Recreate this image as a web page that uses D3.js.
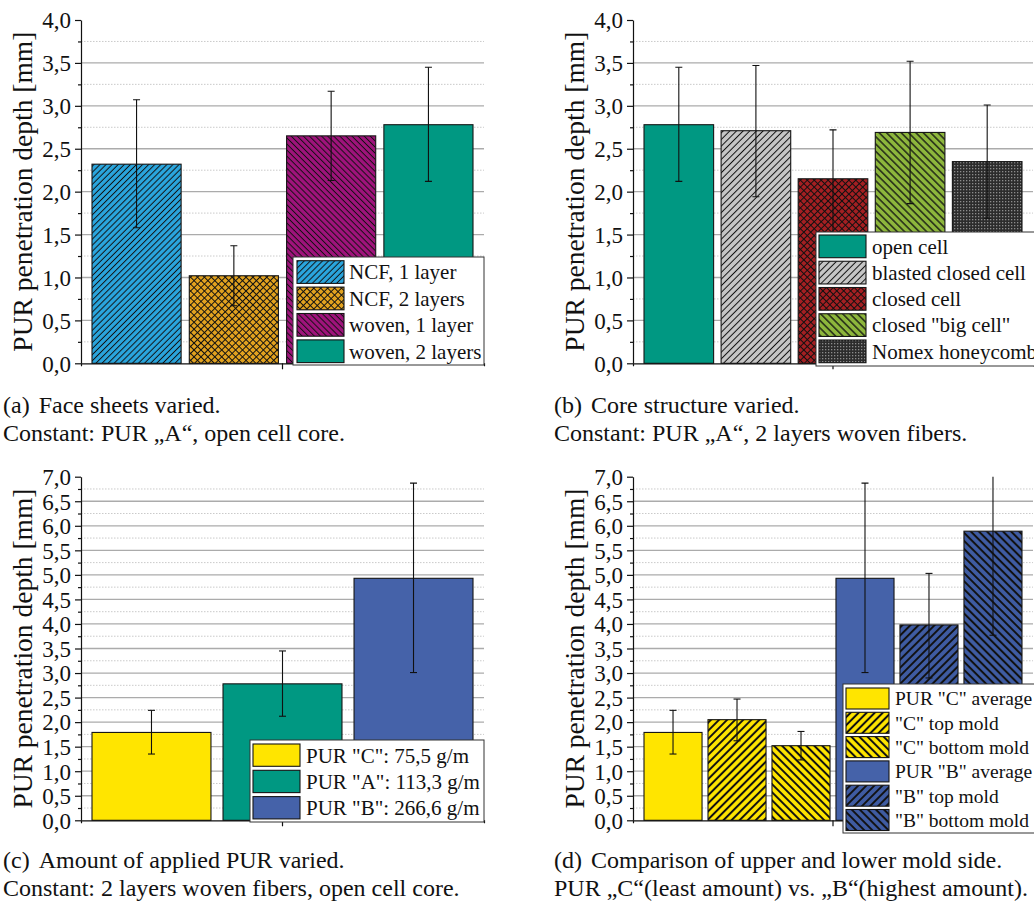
<!DOCTYPE html>
<html>
<head>
<meta charset="utf-8">
<script src="https://cdn.jsdelivr.net/npm/d3@7"></script>
<style>
  body { margin: 0; background: #fff; }
  svg { display: block; }
  text { font-family: "Liberation Serif", "Times New Roman", serif; fill: #111; }
</style>
</head>
<body>
<svg id="fig" width="1034" height="904"></svg>
<script>
// ---------------- data ----------------
// (a) face sheets
const faceSeries = ["NCF, 1 layer", "NCF, 2 layers", "woven, 1 layer", "woven, 2 layers"];
const faceMean   = [2.32, 1.02, 2.65, 2.78];
const faceLow    = [1.58, 0.67, 2.13, 2.12];
const faceHigh   = [3.07, 1.37, 3.17, 3.45];

// (b) core structure
const coreSeries = ["open cell", "blasted closed cell", "closed cell", "closed \"big cell\"", "Nomex honeycomb"];
const coreMean   = [2.78, 2.71, 2.15, 2.69, 2.35];
const coreLow    = [2.12, 1.94, 1.50, 1.86, 1.69];
const coreHigh   = [3.45, 3.47, 2.72, 3.52, 3.01];

// (c) amount of PUR
const amountSeries = ["PUR \"C\": 75,5 g/m", "PUR \"A\": 113,3 g/m", "PUR \"B\": 266,6 g/m"];
const amountMean   = [1.79, 2.78, 4.93];
const amountLow    = [1.35, 2.12, 3.01];
const amountHigh   = [2.24, 3.45, 6.87];

// (d) mold side
const moldSeries = ["PUR \"C\" average", "\"C\" top mold", "\"C\" bottom mold",
                    "PUR \"B\" average", "\"B\" top mold", "\"B\" bottom mold"];
const moldMean   = [1.79, 2.05, 1.52, 4.93, 3.98, 5.89];
const moldLow    = [1.35, 1.62, 1.23, 3.01, 2.90, 3.77];
const moldHigh   = [2.24, 2.47, 1.81, 6.87, 5.03, 8.01];

// axis ticks
const majorTicks4 = [0, 0.5, 1.0, 1.5, 2.0, 2.5, 3.0, 3.5, 4.0];
const minorTicks4 = [0.25, 0.75, 1.25, 1.75, 2.25, 2.75, 3.25, 3.75];
const majorTicks7 = [0, 0.5, 1.0, 1.5, 2.0, 2.5, 3.0, 3.5, 4.0, 4.5, 5.0, 5.5, 6.0, 6.5, 7.0];
const minorTicks7 = [0.25, 0.75, 1.25, 1.75, 2.25, 2.75, 3.25, 3.75, 4.25, 4.75, 5.25, 5.75, 6.25, 6.75];

const yTitle = "PUR penetration depth [mm]";

// ---------------- fills ----------------
const svg = d3.select("#fig");
const defs = svg.append("defs");

function hatch(id, bg, angle, gap, lw, cross) {
  const p = defs.append("pattern")
    .attr("id", id)
    .attr("patternUnits", "userSpaceOnUse")
    .attr("width", gap).attr("height", gap)
    .attr("patternTransform", `rotate(${angle})`);
  p.append("rect").attr("width", gap).attr("height", gap).attr("fill", bg);
  p.append("line").attr("x1", gap / 2).attr("x2", gap / 2).attr("y1", -1).attr("y2", gap + 1)
    .attr("stroke", "#111").attr("stroke-width", lw);
  if (cross) {
    p.append("line").attr("y1", gap / 2).attr("y2", gap / 2).attr("x1", -1).attr("x2", gap + 1)
      .attr("stroke", "#111").attr("stroke-width", lw);
  }
  return `url(#${id})`;
}

function dots(id, bg, fg) {
  const p = defs.append("pattern")
    .attr("id", id).attr("patternUnits", "userSpaceOnUse")
    .attr("width", 3).attr("height", 3);
  p.append("rect").attr("width", 3).attr("height", 3).attr("fill", bg);
  p.append("rect").attr("width", 1.3).attr("height", 1.3).attr("fill", fg);
  return `url(#${id})`;
}

const TEAL = "#009882", YELLOW = "#ffe500", BLUE = "#4562a9";

const fills = {
  "NCF, 1 layer":        hatch("ncf1", "#2aa6de", 45, 4.3, 1, false),
  "NCF, 2 layers":       hatch("ncf2", "#e2a21f", 45, 4.9, 1, true),
  "woven, 1 layer":      hatch("wov1", "#a0137c", -45, 4.3, 1, false),
  "woven, 2 layers":     TEAL,
  "open cell":           TEAL,
  "blasted closed cell": hatch("blast", "#c6c6c6", 45, 4.7, 1, false),
  "closed cell":         hatch("closed", "#a41f22", 45, 4.9, 1, true),
  "closed \"big cell\"": hatch("big", "#8db63c", -45, 5.2, 1.3, false),
  "Nomex honeycomb":     dots("nomex", "#2c2c2c", "#8c8c8c"),
  "PUR \"C\": 75,5 g/m":  YELLOW,
  "PUR \"A\": 113,3 g/m": TEAL,
  "PUR \"B\": 266,6 g/m": BLUE,
  "PUR \"C\" average":   YELLOW,
  "\"C\" top mold":      hatch("ctop", YELLOW, 45, 5.7, 2, false),
  "\"C\" bottom mold":   hatch("cbot", YELLOW, -45, 5.7, 2, false),
  "PUR \"B\" average":   BLUE,
  "\"B\" top mold":      hatch("btop", "#3f5ca3", 45, 5.7, 2, false),
  "\"B\" bottom mold":   hatch("bbot", "#3f5ca3", -45, 5.7, 2, false)
};

// ---------------- layout ----------------
const panels = [
  { key: "a", series: faceSeries, mean: faceMean, low: faceLow, high: faceHigh,
    ymax: 4, majors: majorTicks4, minors: minorTicks4,
    x0: 81, x1: 484, yTop: 20, yBot: 363.3, padIn: 0.084,
    legend: { x: 293, y: 257, w: 191, h: 108, sx: 4, sy: 3.7, sw: 47, sh: 22.7, pitch: 26.4, tx: 56, fs: 21 },
    caption: { x: 3, y: 413, tag: "(a)", first: "Face sheets varied.", second: "Constant: PUR \u201EA\u201C, open cell core." } },
  { key: "b", series: coreSeries, mean: coreMean, low: coreLow, high: coreHigh,
    ymax: 4, majors: majorTicks4, minors: minorTicks4,
    x0: 633, x1: 1033, yTop: 20, yBot: 363.3, padIn: 0.097,
    legend: { x: 816, y: 232, w: 240, h: 134, sx: 3, sy: 3, sw: 47, sh: 22.7, pitch: 26.25, tx: 56, fs: 21 },
    caption: { x: 554, y: 413, tag: "(b)", first: "Core structure varied.", second: "Constant: PUR \u201EA\u201C, 2 layers woven fibers." } },
  { key: "c", series: amountSeries, mean: amountMean, low: amountLow, high: amountHigh,
    ymax: 7, majors: majorTicks7, minors: minorTicks7,
    x0: 81, x1: 484, yTop: 476.7, yBot: 820.3, padIn: 0.092,
    legend: { x: 250, y: 740, w: 234, h: 82, sx: 3, sy: 4, sw: 47, sh: 22.3, pitch: 26.3, tx: 56, fs: 21 },
    caption: { x: 3, y: 868, tag: "(c)", first: "Amount of applied PUR varied.", second: "Constant: 2 layers woven fibers, open cell core." } },
  { key: "d", series: moldSeries, mean: moldMean, low: moldLow, high: moldHigh,
    ymax: 7, majors: majorTicks7, minors: minorTicks7,
    x0: 633, x1: 1033, yTop: 476.7, yBot: 820.3, padIn: 0.093,
    legend: { x: 843, y: 684, w: 210, h: 149, sx: 3, sy: 4, sw: 43, sh: 21, pitch: 24.3, tx: 52, fs: 19.5 },
    caption: { x: 554, y: 868, tag: "(d)", first: "Comparison of upper and lower mold side.", second: "PUR \u201EC\u201C(least amount) vs. \u201EB\u201C(highest amount)." } }
];

const locale = d3.formatLocale({ decimal: ",", thousands: ".", grouping: [3], currency: ["", ""] });
const fmt = locale.format(".1f");

panels.forEach(P => {
  const g = svg.append("g").attr("class", "panel-" + P.key);

  const y = d3.scaleLinear().domain([0, P.ymax]).range([P.yBot, P.yTop]);
  const xOuter = d3.scaleBand().domain([""]).range([P.x0, P.x1]);
  const x = d3.scaleBand().domain(P.series).range([P.x0 + 11, P.x1 - 11]).paddingInner(P.padIn);

  // grid
  g.append("g").selectAll("line").data(P.minors).join("line")
    .attr("x1", P.x0).attr("x2", P.x1)
    .attr("y1", d => y(d)).attr("y2", d => y(d))
    .attr("stroke", "#c4c4c4").attr("stroke-width", 0.9).attr("stroke-dasharray", "1.5,1.5");
  g.append("g").selectAll("line").data(P.majors.filter(t => t > 0 && t < P.ymax)).join("line")
    .attr("x1", P.x0).attr("x2", P.x1)
    .attr("y1", d => y(d)).attr("y2", d => y(d))
    .attr("stroke", "#ababab").attr("stroke-width", 1.3);

  const clipId = "clip-" + P.key;
  defs.append("clipPath").attr("id", clipId)
    .append("rect").attr("x", P.x0).attr("y", P.yTop).attr("width", P.x1 - P.x0).attr("height", P.yBot - P.yTop);

  const rows = P.series.map((s, i) => ({ s, m: P.mean[i], lo: P.low[i], hi: P.high[i] }));

  // bars
  g.append("g").selectAll("rect").data(rows).join("rect")
    .attr("x", d => x(d.s))
    .attr("y", d => y(d.m))
    .attr("width", x.bandwidth())
    .attr("height", d => y(0) - y(d.m))
    .attr("fill", d => fills[d.s])
    .attr("stroke", "#151515").attr("stroke-width", 1.1);

  // error bars
  const eb = g.append("g").attr("clip-path", `url(#${clipId})`)
    .attr("stroke", "#111").attr("stroke-width", 1.1);
  const cap = 3.5;
  rows.forEach(d => {
    const cx = x(d.s) + x.bandwidth() / 2;
    eb.append("line").attr("x1", cx).attr("x2", cx).attr("y1", y(d.lo)).attr("y2", y(d.hi));
    eb.append("line").attr("x1", cx - cap).attr("x2", cx + cap).attr("y1", y(d.lo)).attr("y2", y(d.lo));
    eb.append("line").attr("x1", cx - cap).attr("x2", cx + cap).attr("y1", y(d.hi)).attr("y2", y(d.hi));
  });

  // axes
  const axMinor = g.append("g").attr("transform", `translate(${P.x0},0)`)
    .call(d3.axisLeft(y).tickValues(P.minors).tickSize(3).tickSizeOuter(0).tickFormat(""));
  axMinor.select(".domain").remove();

  const axY = g.append("g").attr("transform", `translate(${P.x0},0)`)
    .call(d3.axisLeft(y).tickValues(P.majors).tickSize(6).tickSizeOuter(0).tickPadding(4).tickFormat(fmt));
  axY.selectAll("text")
    .style("font-family", "\"Liberation Serif\", \"Times New Roman\", serif")
    .style("font-size", "23px").attr("fill", "#111").attr("dy", "0.34em");

  const axX = g.append("g").attr("transform", `translate(0,${P.yBot})`)
    .call(d3.axisBottom(xOuter).tickSize(6).tickSizeOuter(3).tickFormat(""));

  [axMinor, axY, axX].forEach(a => a.attr("color", "#111")
    .selectAll("path, line").attr("stroke-width", 1.2));

  // axis title
  g.append("text")
    .attr("transform", `translate(${P.x0 - 49},${(P.yTop + P.yBot) / 2}) rotate(-90)`)
    .attr("text-anchor", "middle")
    .style("font-size", "27.5px")
    .text(yTitle);

  // legend
  const L = P.legend;
  const lg = g.append("g").attr("transform", `translate(${L.x},${L.y})`);
  lg.append("rect").attr("width", L.w).attr("height", L.h)
    .attr("fill", "#fff").attr("stroke", "#333").attr("stroke-width", 1);
  rows.forEach((d, i) => {
    const ry = L.sy + i * L.pitch;
    lg.append("rect").attr("x", L.sx).attr("y", ry).attr("width", L.sw).attr("height", L.sh)
      .attr("fill", fills[d.s]).attr("stroke", "#151515").attr("stroke-width", 1.1);
    lg.append("text").attr("x", L.tx).attr("y", ry + L.sh / 2).attr("dy", "0.35em")
      .style("font-size", L.fs + "px").text(d.s);
  });

  // caption
  const C = P.caption;
  const t1 = svg.append("text").attr("x", C.x).attr("y", C.y).style("font-size", "24px");
  t1.append("tspan").text(C.tag);
  t1.append("tspan").attr("dx", 9).text(C.first);
  svg.append("text").attr("x", C.x).attr("y", C.y + 28).style("font-size", "24px").text(C.second);
});
</script>
</body>
</html>
